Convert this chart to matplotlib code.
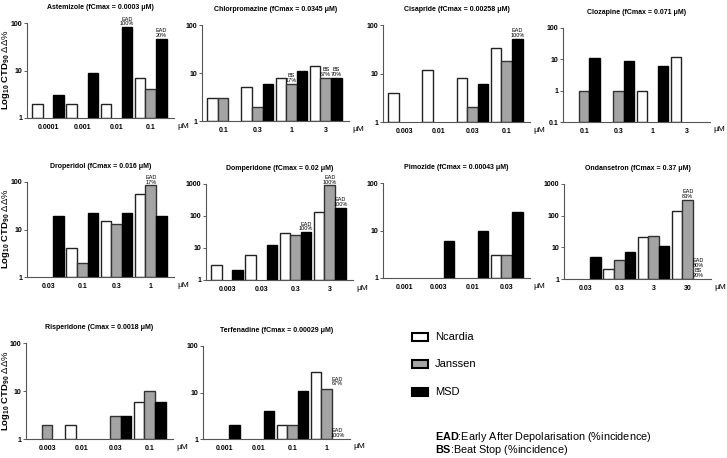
import numpy as np
import matplotlib
matplotlib.use("Agg")
import matplotlib.pyplot as plt
from matplotlib.patches import Rectangle

nan = np.nan

# ---------------- data ----------------
astemizole_conc = ["0.0001", "0.001", "0.01", "0.1"]
astemizole_ncardia = [2, 2, 2, 7]
astemizole_janssen = [nan, nan, nan, 4]
astemizole_msd = [3, 9, 82, 46]

chlorpromazine_conc = ["0.1", "0.3", "1", "3"]
chlorpromazine_ncardia = [3, 5, 8, 14]
chlorpromazine_janssen = [3, 2, 6, 8]
chlorpromazine_msd = [nan, 6, 11, 8]

cisapride_conc = ["0.003", "0.01", "0.03", "0.1"]
cisapride_ncardia = [4, 12, 8, 33]
cisapride_janssen = [nan, nan, 2, 18]
cisapride_msd = [nan, nan, 6, 52]

clozapine_conc = ["0.1", "0.3", "1", "3"]
clozapine_ncardia = [nan, nan, 1, 12]
clozapine_janssen = [1, 1, nan, nan]
clozapine_msd = [11, 9, 6, nan]

droperidol_conc = ["0.03", "0.1", "0.3", "1"]
droperidol_ncardia = [nan, 4, 15, 55]
droperidol_janssen = [nan, 2, 13, 86]
droperidol_msd = [19, 22, 22, 19]

domperidone_conc = ["0.003", "0.03", "0.3", "3"]
domperidone_ncardia = [3, 6, 29, 133]
domperidone_janssen = [nan, nan, 25, 930]
domperidone_msd = [2, 12, 32, 181]

pimozide_conc = ["0.001", "0.003", "0.01", "0.03"]
pimozide_ncardia = [nan, nan, nan, 3]
pimozide_janssen = [nan, nan, nan, 3]
pimozide_msd = [nan, 6, 10, 25]

ondansetron_conc = ["0.03", "0.3", "3", "30"]
ondansetron_ncardia = [nan, 2, 21, 143]
ondansetron_janssen = [nan, 4, 23, 320]
ondansetron_msd = [5, 7, 11, nan]

risperidone_conc = ["0.003", "0.01", "0.03", "0.1"]
risperidone_ncardia = [nan, 2, nan, 6]
risperidone_janssen = [2, nan, 3, 10]
risperidone_msd = [nan, nan, 3, 6]

terfenadine_conc = ["0.001", "0.01", "0.1", "1"]
terfenadine_ncardia = [nan, nan, 2, 27]
terfenadine_janssen = [nan, nan, 2, 12]
terfenadine_msd = [2, 4, 11, nan]

titles = [
    "Astemizole (fCmax = 0.0003 μM)",
    "Chlorpromazine (fCmax = 0.0345 μM)",
    "Cisapride (fCmax = 0.00258 μM)",
    "Clozapine (fCmax = 0.071 μM)",
    "Droperidol (fCmax = 0.016 μM)",
    "Domperidone (fCmax = 0.02 μM)",
    "Pimozide (fCmax = 0.00043 μM)",
    "Ondansetron (fCmax = 0.37 μM)",
    "Risperidone (Cmax = 0.0018 μM)",
    "Terfenadine (fCmax = 0.00029 μM)",
]

series_names = ["Ncardia", "Janssen", "MSD"]

# annotations: (panel index, group index, series index, text, y value)
annotations = [
    (0, 2, 2, "EAD\n100%", 85),
    (0, 3, 2, "EAD\n20%", 48),
    (1, 2, 1, "BS\n17%", 6.2),
    (1, 3, 1, "BS\n67%", 8.2),
    (1, 3, 2, "BS\n70%", 8.2),
    (2, 3, 2, "EAD\n100%", 54),
    (4, 3, 1, "EAD\n17%", 88),
    (5, 2, 2, "EAD\n100%", 33),
    (5, 3, 1, "EAD\n100%", 960),
    (5, 3, 2, "EAD\n100%", 190),
    (7, 3, 1, "EAD\n83%", 330),
    (7, 3, 2, "EAD\n80%\nBS\n20%", 1.1),
    (9, 3, 2, "EAD\n67%", 13.5),
    (9, 3, 2, "EAD\n100%", 1.05),
]

# ---------------- style ----------------
plt.rcParams["font.family"] = ["Liberation Sans", "DejaVu Sans"]
plt.rcParams["mathtext.fontset"] = "custom"
plt.rcParams["mathtext.rm"] = "Liberation Sans"
plt.rcParams["mathtext.bf"] = "Liberation Sans:bold"
plt.rcParams["mathtext.it"] = "Liberation Sans:italic"

W, H = 727, 458
fig = plt.figure(figsize=(W / 100, H / 100), dpi=100)

def fx(x):
    return x / W

def fy(y):
    return 1 - y / H

# panel boxes: left px, top px, bottom px, ylim low, ylim high
boxes = [
    (27, 23, 118, 1, 100),
    (202, 25, 121, 1, 100),
    (383, 25, 122, 1, 100),
    (563, 28, 122, 0.1, 100),
    (27, 182, 277, 1, 100),
    (206, 184, 280, 1, 1000),
    (383, 183, 278, 1, 100),
    (564, 184, 279, 1, 1000),
    (26, 343, 439, 1, 100),
    (203, 346, 439, 1, 100),
]
panel_w = 147

data = [
    (astemizole_conc, astemizole_ncardia, astemizole_janssen, astemizole_msd),
    (chlorpromazine_conc, chlorpromazine_ncardia, chlorpromazine_janssen, chlorpromazine_msd),
    (cisapride_conc, cisapride_ncardia, cisapride_janssen, cisapride_msd),
    (clozapine_conc, clozapine_ncardia, clozapine_janssen, clozapine_msd),
    (droperidol_conc, droperidol_ncardia, droperidol_janssen, droperidol_msd),
    (domperidone_conc, domperidone_ncardia, domperidone_janssen, domperidone_msd),
    (pimozide_conc, pimozide_ncardia, pimozide_janssen, pimozide_msd),
    (ondansetron_conc, ondansetron_ncardia, ondansetron_janssen, ondansetron_msd),
    (risperidone_conc, risperidone_ncardia, risperidone_janssen, risperidone_msd),
    (terfenadine_conc, terfenadine_ncardia, terfenadine_janssen, terfenadine_msd),
]

faces = ["white", "#a4a4a4", "black"]
edges = ["#222222", "#333333", "black"]
bw = 0.31
offsets = [-bw, 0, bw]

axes = []
for i, ((conc, n, j, m), (lx, ty, by, ylo, yhi)) in enumerate(zip(data, boxes)):
    ax = fig.add_axes([fx(lx), fy(by), panel_w / W, (by - ty) / H])
    axes.append(ax)
    ax.set_yscale("log")
    x = np.arange(len(conc))
    for s, vals in enumerate([n, j, m]):
        v = np.array(vals, dtype=float)
        ok = ~np.isnan(v)
        ax.bar(x[ok] + offsets[s], v[ok] - ylo, bottom=ylo, width=bw,
               color=faces[s], edgecolor=edges[s], linewidth=1.0, zorder=2)
    ax.set_ylim(ylo, yhi)
    ax.set_xlim(-0.62, 3.68)
    ticks = [10.0 ** k for k in range(int(round(np.log10(ylo))), int(round(np.log10(yhi))) + 1)]
    ax.set_yticks(ticks)
    ax.set_yticklabels([("%g" % t) for t in ticks], fontsize=5, fontweight="bold")
    ax.yaxis.set_minor_locator(matplotlib.ticker.NullLocator())
    ax.set_xticks(x)
    ax.set_xticklabels(conc, fontsize=5, fontweight="bold")
    ax.tick_params(axis="x", length=0, pad=4)
    ax.tick_params(axis="y", length=2, width=0.6, pad=1.5, color="#444444")
    for sp in ["top", "right"]:
        ax.spines[sp].set_visible(False)
    for sp in ["left", "bottom"]:
        ax.spines[sp].set_linewidth(0.8)
        ax.spines[sp].set_color("#555555")
    ax.set_title(titles[i], fontsize=5, fontweight="bold", pad=10)
    ax.text(1.02, -0.085, "μM", transform=ax.transAxes, fontsize=6,
            ha="left", va="center")

for (pi, g, s, txt, yv) in annotations:
    axes[pi].text(g + offsets[s], yv, txt, fontsize=4.0, ha="center", va="bottom",
                  linespacing=0.95, zorder=5)

# y labels
ylab = r"$\mathbf{Log_{10}\ CTD_{90}}$ ΔΔ%"
for yc in [70, 229, 391]:
    fig.text(fx(6.5), fy(yc), ylab, rotation=90, ha="center", va="center",
             fontsize=6.8)

# legend
for k, (name, yc) in enumerate(zip(series_names, [337, 364, 392])):
    fig.patches.append(Rectangle((fx(412), fy(yc + 4)), 16 / W, 8 / H,
                                 transform=fig.transFigure, facecolor=faces[k],
                                 edgecolor="black", linewidth=1.5))
    fig.text(fx(435), fy(yc), name, fontsize=8, ha="left", va="center")

fig.text(fx(435), fy(437), r"$\mathbf{EAD}$:Early After Depolarisation (%incidence)",
         fontsize=7.8, ha="left", va="center")
fig.text(fx(435), fy(450), r"$\mathbf{BS}$:Beat Stop (%incidence)",
         fontsize=7.8, ha="left", va="center")

fig.savefig("out.png", dpi=100)
